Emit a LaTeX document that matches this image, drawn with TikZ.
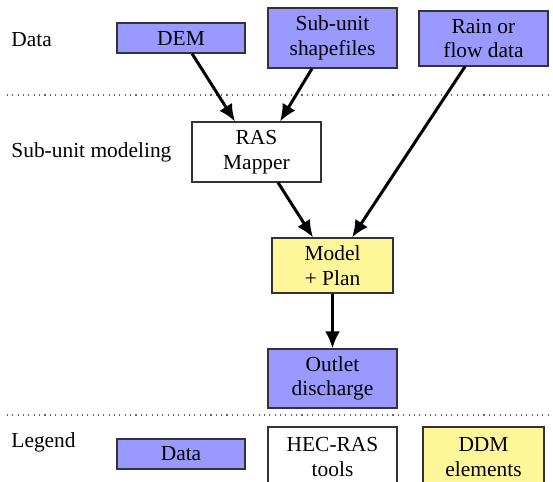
\documentclass[tikz,border=0pt]{standalone}
\usepackage{fontspec}
\setmainfont{LiberationSerif}[Extension=.ttf,UprightFont=*-Regular,BoldFont=*-Bold,ItalicFont=*-Italic,BoldItalicFont=*-BoldItalic]
\usetikzlibrary{arrows.meta}
\newcommand\pxs{0.467pt}
\definecolor{datablue}{RGB}{153,153,255}
\definecolor{ddmyellow}{RGB}{255,245,153}
\begin{document}
\begin{tikzpicture}[x=0.467pt,y=-0.467pt,
  box/.style={draw=black!80,line width=0.5pt,inner sep=0pt,align=center,
    font=\rmfamily\fontsize{10}{11.5}\selectfont},
  databox/.style={box,fill=datablue},
  toolbox/.style={box,fill=white},
  ddmbox/.style={box,fill=ddmyellow},
  lbl/.style={anchor=west,inner sep=0pt,font=\rmfamily\fontsize{10}{11.5}\selectfont},
  sep/.style={dotted,line width=0.5pt,black!60},
  flow/.style={line width=1.4pt,-{Latex[length=8pt,width=7pt]}}]
\useasboundingbox (0,0) rectangle (553,481);
% section separators
\draw[sep] (7,95) -- (553,95);
\draw[sep] (7,415) -- (553,415);
% section labels
\node[lbl] (ldata) at (11,40) {Data};
\node[lbl] (lsub) at (11,152) {Sub-unit modeling};
\node[lbl] (lleg) at (11,442) {Legend};
% data row
\node[databox,minimum width=128*\pxs,minimum height=30*\pxs] (dem) at (181,38) {DEM};
\node[databox,minimum width=129*\pxs,minimum height=60*\pxs] (shp) at (332.5,38) {Sub-unit\\shapefiles};
\node[databox,minimum width=129*\pxs,minimum height=55*\pxs] (rain) at (483.5,38.5) {Rain or\\flow data};
% modeling
\node[toolbox,minimum width=129*\pxs,minimum height=60*\pxs] (ras) at (256.5,152) {RAS\\Mapper};
\node[ddmbox,minimum width=121*\pxs,minimum height=55*\pxs] (model) at (332.5,265.5) {Model\\+ Plan};
\node[databox,minimum width=129*\pxs,minimum height=59*\pxs] (out) at (332.5,378.5) {Outlet\\discharge};
% legend
\node[databox,minimum width=128*\pxs,minimum height=30*\pxs] (legdata) at (181,454) {Data};
\node[toolbox,minimum width=129*\pxs,minimum height=60*\pxs] (legtool) at (332.5,457) {HEC-RAS\\tools};
\node[ddmbox,minimum width=121*\pxs,minimum height=60*\pxs] (legddm) at (483.5,457) {DDM\\elements};
% connectors
\draw[flow] ([xshift=11*\pxs]dem.south) -- ([xshift=-21.5*\pxs]ras.north);
\draw[flow] ([xshift=-20.5*\pxs]shp.south) -- ([xshift=23.5*\pxs]ras.north);
\draw[flow] ([xshift=21.5*\pxs]ras.south) -- ([xshift=-19.5*\pxs]model.north);
\draw[flow] ([xshift=-18.5*\pxs]rain.south) -- ([xshift=19.5*\pxs]model.north);
\draw[flow] (model.south) -- (out.north);
\end{tikzpicture}
\end{document}
